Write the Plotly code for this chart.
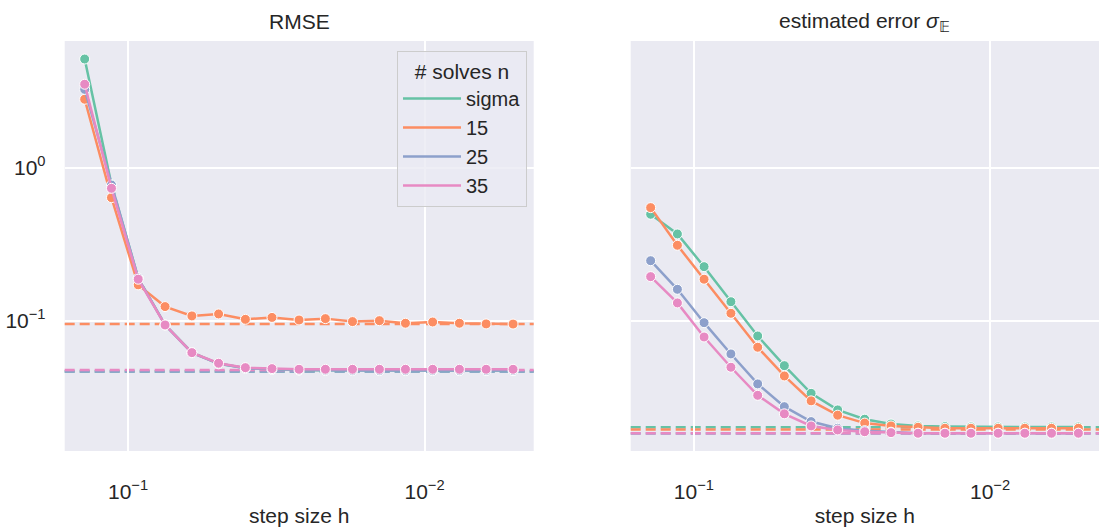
import plotly.graph_objects as go

# ---------------- data ----------------
h = [0.140, 0.1137, 0.0924, 0.0750, 0.0609, 0.0495, 0.0402, 0.0327, 0.0265,
     0.0216, 0.0175, 0.0142, 0.0116, 0.00939, 0.00763, 0.00620, 0.00503]

series_names = ["sigma", "15", "25", "35"]
colors = ["#66c2a5", "#fc8d62", "#8da0cb", "#e78ac3"]

rmse_sigma = [5.13, 0.775, 0.190, 0.0940, 0.0620, 0.0522, 0.0490, 0.0481, 0.0476,
              0.0474, 0.0473, 0.0472, 0.0472, 0.0472, 0.0472, 0.0472, 0.0472]
rmse_15 = [2.80, 0.637, 0.1714, 0.1236, 0.1074, 0.1106, 0.1020, 0.1050, 0.1010,
           0.1031, 0.0986, 0.1000, 0.0962, 0.0980, 0.0962, 0.0952, 0.0950]
rmse_25 = [3.25, 0.770, 0.190, 0.0937, 0.0616, 0.0524, 0.0489, 0.0481, 0.0476,
           0.0474, 0.0473, 0.0472, 0.0472, 0.0472, 0.0472, 0.0472, 0.0472]
rmse_35 = [3.51, 0.733, 0.1866, 0.0937, 0.0618, 0.0527, 0.0493, 0.0486, 0.0481,
           0.0481, 0.0481, 0.0481, 0.0481, 0.0481, 0.0481, 0.0481, 0.0481]

est_sigma = [0.496, 0.3687, 0.2254, 0.1330, 0.0794, 0.0508, 0.0335, 0.0261, 0.0227,
             0.0211, 0.0205, 0.0203, 0.0202, 0.0202, 0.0202, 0.0202, 0.0202]
est_15 = [0.548, 0.311, 0.1866, 0.1117, 0.0670, 0.0435, 0.0299, 0.0241, 0.0214,
          0.0205, 0.0201, 0.0198, 0.0198, 0.0198, 0.0198, 0.0198, 0.0198]
est_25 = [0.2466, 0.1603, 0.0970, 0.0606, 0.0386, 0.0274, 0.0219, 0.0198, 0.0191,
          0.01866, 0.01837, 0.01837, 0.01837, 0.01837, 0.01837, 0.01837, 0.01837]
est_35 = [0.194, 0.1306, 0.0782, 0.0496, 0.0325, 0.0246, 0.0205, 0.0193, 0.0188,
          0.01853, 0.01837, 0.01837, 0.01837, 0.01837, 0.01837, 0.01837, 0.01837]

rmse_ref = [0.0466, 0.0951, 0.0466, 0.0476]
est_ref = [0.0201, 0.01945, 0.0183, 0.0184]

x_ticks = [0.1, 0.01]
x_ticktext = ["10<sup>\u22121</sup>", "10<sup>\u22122</sup>"]
y_ticks = [1, 0.1]
y_ticktext = ["10<sup>0</sup>", "10<sup>\u22121</sup>"]

x_range_log = [-0.7865, -2.368]
y_range_log = [-1.852, 0.828]

# ---------------- figure ----------------
W, H = 1099, 529
FONT = "Liberation Sans, Arial, sans-serif"
TXT = "#262626"
BG = "#eaeaf2"

fig = go.Figure()

rmse_all = [rmse_sigma, rmse_15, rmse_25, rmse_35]
est_all = [est_sigma, est_15, est_25, est_35]

for vals, xa, ya in [(rmse_all, "x", "y"), (est_all, "x2", "y2")]:
    for name, col, v in zip(series_names, colors, vals):
        fig.add_trace(go.Scatter(
            x=h, y=v, mode="lines+markers", name=name, showlegend=False,
            line=dict(color=col, width=2.5),
            marker=dict(color=col, size=10, line=dict(color="white", width=1)),
            xaxis=xa, yaxis=ya))

# legend entries (line samples only)
for name, col in zip(series_names, colors):
    fig.add_trace(go.Scatter(
        x=[None], y=[None], mode="lines", name=name, legendgroup=name,
        line=dict(color=col, width=2.5), xaxis="x", yaxis="y"))

shapes = []
for refs, xr, yr in [(rmse_ref, "x domain", "y"), (est_ref, "x2 domain", "y2")]:
    for col, val in zip(colors, refs):
        shapes.append(dict(type="line", xref=xr, yref=yr, x0=0, x1=1, y0=val, y1=val,
                           line=dict(color=col, width=2.5, dash="10px,5px"),
                           layer="below"))

xl = (64.7 / W, 533.7 / W)
xr_ = (630.7 / W, 1.0)
yd = (1 - 451 / H, 1 - 41 / H)

common_x = dict(type="log", range=x_range_log, autorange=False,
                tickvals=x_ticks, ticktext=x_ticktext,
                showgrid=True, gridcolor="white", gridwidth=1.5,
                zeroline=False, showline=False,
                ticks="outside", ticklen=22, tickcolor="rgba(0,0,0,0)",
                tickfont=dict(family=FONT, size=21, color=TXT),
                title=dict(text="step size h", font=dict(family=FONT, size=21, color=TXT),
                           standoff=6))
common_y = dict(type="log", range=y_range_log, autorange=False,
                tickvals=y_ticks, ticktext=y_ticktext,
                showgrid=True, gridcolor="white", gridwidth=1.5,
                zeroline=False, showline=False,
                ticks="outside", ticklen=14, tickcolor="rgba(0,0,0,0)",
                tickfont=dict(family=FONT, size=21, color=TXT))

fig.update_layout(
    width=W, height=H,
    margin=dict(l=0, r=0, t=0, b=0),
    paper_bgcolor="white", plot_bgcolor=BG,
    font=dict(family=FONT, size=20, color=TXT),
    xaxis=dict(domain=xl, anchor="y", **common_x),
    yaxis=dict(domain=yd, anchor="x", **common_y),
    xaxis2=dict(domain=xr_, anchor="y2", **common_x),
    yaxis2=dict(domain=yd, anchor="x2", showticklabels=False, **common_y),
    shapes=shapes,
    legend=dict(
        x=527 / W, y=1 - 50.7 / H, xanchor="right", yanchor="top",
        bgcolor="rgba(234,234,242,0.8)", bordercolor="#cccccc", borderwidth=1,
        font=dict(family=FONT, size=20, color=TXT),
        title=dict(text="# solves n", side="top center",
                   font=dict(family=FONT, size=21, color=TXT)),
        traceorder="grouped", tracegroupgap=0, itemwidth=58,
    ),
    annotations=[
        dict(text="RMSE", x=(xl[0] + xl[1]) / 2, y=1 - 22 / H, xref="paper", yref="paper",
             showarrow=False, font=dict(family=FONT, size=21, color=TXT),
             xanchor="center", yanchor="middle"),
        dict(text="estimated error <i>\u03c3</i><sub>\U0001D53C</sub>",
             x=(xr_[0] + 1.0) / 2, y=1 - 22 / H, xref="paper", yref="paper",
             showarrow=False, font=dict(family=FONT, size=21, color=TXT),
             xanchor="center", yanchor="middle"),
    ],
)

fig.write_html("out.html")
